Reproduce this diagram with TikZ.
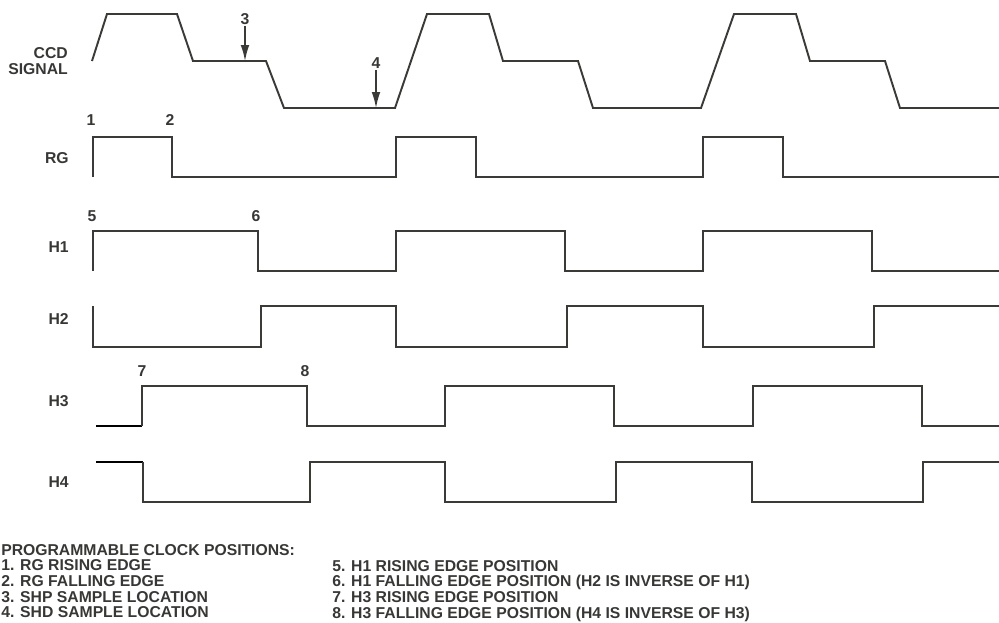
\documentclass[tikz,border=0pt]{standalone}
\usepackage{fontspec}
\setmainfont{Liberation Sans}
\usetikzlibrary{arrows.meta}

\definecolor{wavegray}{RGB}{58,58,55}
\definecolor{textgray}{RGB}{55,55,53}

\begin{document}
\begin{tikzpicture}[x=0.75pt,y=-0.75pt]
		\tikzset{
			wave/.style={draw=wavegray, line width=1.45pt, line join=miter},
			lead/.style={draw=black, line width=1.8pt},
			sig label/.style={anchor=east, inner sep=0pt, text=textgray, align=right,
				font=\fontsize{11.8}{11.8}\selectfont\bfseries},
			pos label/.style={inner sep=1pt, text=textgray,
				font=\fontsize{11.8}{11.8}\selectfont\bfseries},
			notes/.style={anchor=north west, inner sep=0pt, text=textgray, align=left,
				font=\fontsize{11.8}{11.75}\selectfont\bfseries},
			marker/.style={draw=wavegray, line width=1.1pt, -{Latex[length=12pt,width=6.5pt]}}
		}
		\useasboundingbox (0,0) rectangle (999,622);

		% signal names
		\node[sig label] (ccd) at (68,61) {CCD\\SIGNAL};
		\node[sig label] (rg) at (69,158) {RG};
		\node[sig label] (h1) at (69,247) {H1};
		\node[sig label] (h2) at (69,319) {H2};
		\node[sig label] (h3) at (69,401) {H3};
		\node[sig label] (h4) at (69,482) {H4};

		% CCD signal
		\draw[wave] (92,61) -- (107,14) -- (177,14) -- (193,61) -- (266,61) -- (284,108)
			-- (395,108) -- (427,14) -- (489,14) -- (503,61) -- (578,61) -- (593,108)
			-- (701,108) -- (734,14) -- (796,14) -- (810,61) -- (885,61) -- (900,108) -- (999,108);

		% RG
		\draw[wave] (93,177) -- (93,137) -- (172,137) -- (172,177) -- (396,177) -- (396,137)
			-- (476,137) -- (476,177) -- (703,177) -- (703,137) -- (783,137) -- (783,177) -- (999,177);

		% H1 and H2
		\draw[wave] (93,271) -- (93,231) -- (258,231) -- (258,271) -- (396,271) -- (396,231)
			-- (565,231) -- (565,271) -- (703,271) -- (703,231) -- (872,231) -- (872,271) -- (999,271);
		\draw[wave] (93,306) -- (93,347) -- (261,347) -- (261,306) -- (396,306) -- (396,347)
			-- (567,347) -- (567,306) -- (703,306) -- (703,347) -- (874,347) -- (874,306) -- (999,306);

		% H3 and H4
		\draw[lead] (96,426) -- (142,426);
		\draw[wave] (142,426) -- (142,386) -- (307,386) -- (307,426) -- (445,426) -- (445,386)
			-- (614,386) -- (614,426) -- (753,426) -- (753,386) -- (922,386) -- (922,426) -- (999,426);
		\draw[lead] (96,462) -- (143,462);
		\draw[wave] (143,462) -- (143,502) -- (310,502) -- (310,462) -- (445,462) -- (445,502)
			-- (616,502) -- (616,462) -- (752,462) -- (752,502) -- (923,502) -- (923,462) -- (999,462);

		% clock positions
		\node[pos label] (p1) at (91,120) {1};
		\node[pos label] (p2) at (170,120) {2};
		\node[pos label] (p3) at (245,19) {3};
		\node[pos label] (p4) at (376,63) {4};
		\node[pos label] (p5) at (92,216) {5};
		\node[pos label] (p6) at (256,216) {6};
		\node[pos label] (p7) at (142,371) {7};
		\node[pos label] (p8) at (305,371) {8};

		\coordinate (shp) at (245,61);
		\coordinate (shd) at (376,108);
		\draw[marker] (p3) -- (shp);
		\draw[marker] (p4) -- (shd);

		% notes
		\node[notes] (left notes) at (1,544) {PROGRAMMABLE CLOCK POSITIONS:\\1. RG RISING EDGE\\2. RG FALLING EDGE\\3. SHP SAMPLE LOCATION\\4. SHD SAMPLE LOCATION};
		\node[notes] (right notes) at (332,560) {5. H1 RISING EDGE POSITION\\6. H1 FALLING EDGE POSITION (H2 IS INVERSE OF H1)\\7. H3 RISING EDGE POSITION\\8. H3 FALLING EDGE POSITION (H4 IS INVERSE OF H3)};
	\end{tikzpicture}
\end{document}
